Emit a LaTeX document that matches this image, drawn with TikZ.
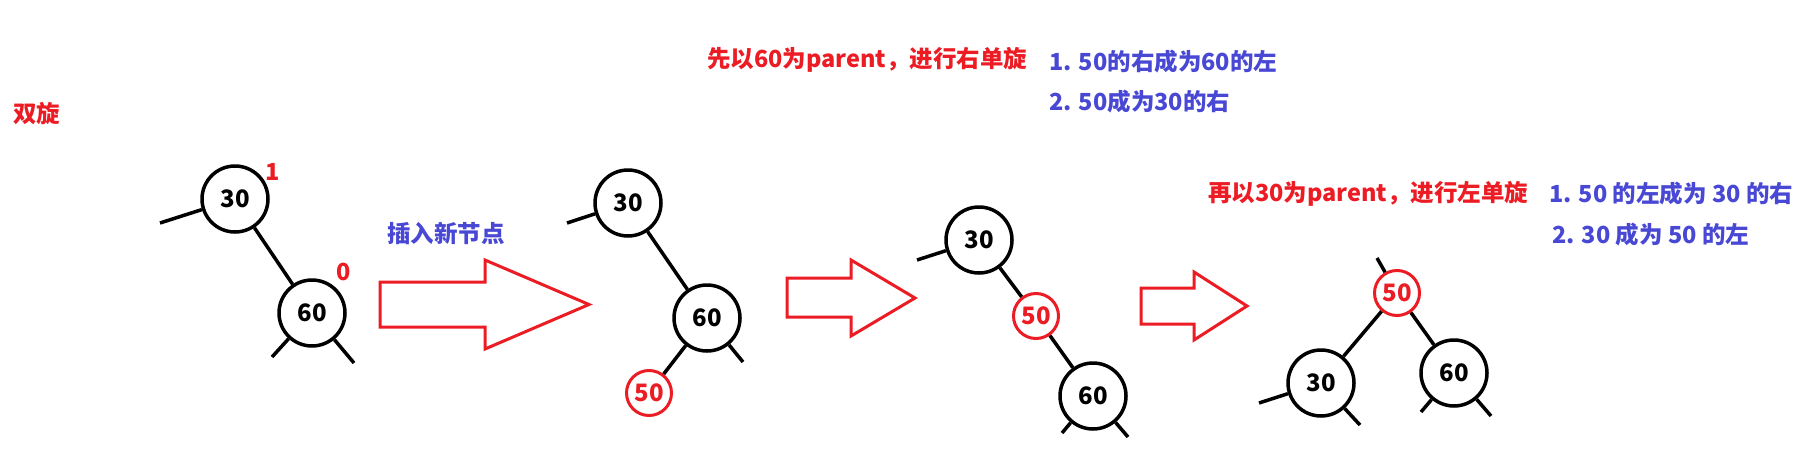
\documentclass[tikz,border=0pt]{standalone}
\usepackage{fontspec}
\setmainfont{Noto Sans CJK SC}
\usetikzlibrary{positioning}
\definecolor{rotred}{HTML}{EC1C24}
\definecolor{stepblue}{HTML}{4848D4}

\begin{document}
\begin{tikzpicture}[x=1pt, y=-1pt,
  key/.style={circle, draw=black, line width=3.5pt, minimum size=66pt,
    inner sep=0pt, font=\fontsize{24}{24}\selectfont\bfseries},
  newkey/.style={circle, draw=rotred, line width=3pt, text=rotred,
    minimum size=45pt, inner sep=0pt, font=\fontsize{24}{24}\selectfont\bfseries},
  link/.style={line width=3.5pt},
  redtxt/.style={text=rotred, inner sep=0pt, anchor=west,
    font=\fontsize{23.5}{28}\selectfont\bfseries},
  bluetxt/.style={text=stepblue, inner sep=0pt, anchor=west,
    font=\fontsize{23.5}{28}\selectfont\bfseries},
  fatarrow/.style={draw=rotred, line width=3pt, line join=miter}
]
\useasboundingbox (0,0) rectangle (1814,461);
% title
\node[redtxt] (title) at (13,114) {双旋};
% tree 1: before insertion
\node[key] (a30) at (235,199) {30};
\node[key] (a60) at (312,313) {60};
\node[redtxt] (a30bf) at (265,172) {1};
\node[redtxt] (a60bf) at (336,272) {0};
\coordinate (a30s) at (160,223);
\coordinate (a60l) at (272,357);
\coordinate (a60r) at (354,363);
\draw[link] (a30) -- (a60);
\draw[link] (a30) -- (a30s);
\draw[link] (a60) -- (a60l);
\draw[link] (a60) -- (a60r);
% arrow 1
\node[bluetxt] (ins) at (387,234) {插入新节点};
\draw[fatarrow] (380,282) -- (485,282) -- (485,260) -- (589,304.5)
  -- (485,349) -- (485,327) -- (380,327) -- cycle;
% tree 2: after insertion
\node[key] (b30) at (628,203) {30};
\node[key] (b60) at (707,318) {60};
\node[newkey] (b50) at (649,393) {50};
\coordinate (b30s) at (567,223);
\coordinate (b60r) at (743,362);
\draw[link] (b30) -- (b60);
\draw[link] (b60) -- (b50);
\draw[link] (b30) -- (b30s);
\draw[link] (b60) -- (b60r);
% right rotation notes
\node[redtxt] (rr) at (707,60) {先以60为parent，进行右单旋};
\node[bluetxt] (rr1) at (1049,62) {1. 50的右成为60的左};
\node[bluetxt] (rr2) at (1049,102) {2. 50成为30的右};
% arrow 2
\draw[fatarrow] (787,278) -- (851,278) -- (851,260) -- (915,298)
  -- (851,336) -- (851,317) -- (787,317) -- cycle;
% tree 3: after right rotation
\node[key] (c30) at (979,240) {30};
\node[newkey] (c50) at (1036,316) {50};
\node[key] (c60) at (1093,396) {60};
\coordinate (c30s) at (917,260);
\coordinate (c60l) at (1062,433);
\coordinate (c60r) at (1128,437);
\draw[link] (c30) -- (c50);
\draw[link] (c50) -- (c60);
\draw[link] (c30) -- (c30s);
\draw[link] (c60) -- (c60l);
\draw[link] (c60) -- (c60r);
% left rotation notes
\node[redtxt] (lr) at (1208,194) {再以30为parent，进行左单旋};
\node[bluetxt] (lr1) at (1549,194) {1. 50 的左成为 30 的右};
\node[bluetxt] (lr2) at (1552,235) {2. 30 成为 50 的左};
% arrow 3
\draw[fatarrow] (1141,288) -- (1194,288) -- (1194,272) -- (1247,306)
  -- (1194,340) -- (1194,324) -- (1141,324) -- cycle;
% tree 4: after left rotation
\node[newkey] (d50) at (1397,293) {50};
\node[key] (d30) at (1321,383) {30};
\node[key] (d60) at (1454,373) {60};
\coordinate (d50s) at (1377,258);
\coordinate (d30s) at (1259,403);
\coordinate (d30r) at (1360,425);
\coordinate (d60l) at (1421,412);
\coordinate (d60r) at (1491,416);
\draw[link] (d50) -- (d30);
\draw[link] (d50) -- (d60);
\draw[link] (d50) -- (d50s);
\draw[link] (d30) -- (d30s);
\draw[link] (d30) -- (d30r);
\draw[link] (d60) -- (d60l);
\draw[link] (d60) -- (d60r);
\end{tikzpicture}
\end{document}
